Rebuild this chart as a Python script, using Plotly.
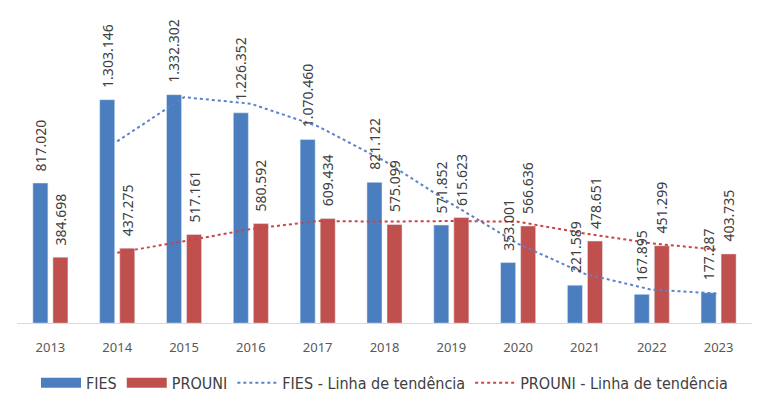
import plotly.graph_objects as go

years = ["2013", "2014", "2015", "2016", "2017", "2018", "2019", "2020", "2021", "2022", "2023"]
fies = [817020, 1303146, 1332302, 1226352, 1070460, 821122, 571852, 353001, 221589, 167895, 177287]
prouni = [384698, 437275, 517161, 580592, 609434, 575099, 615623, 566636, 478651, 451299, 403735]
# Excel moving-average (period 2) trend lines, starting in 2014
trend_years = years[1:]
fies_trend = [1060083, 1317724, 1279327, 1148406, 945791, 696487, 462426.5, 287295, 194742, 172591]
prouni_trend = [410986.5, 477218, 548876.5, 595013, 592266.5, 595361, 591129.5, 522643.5, 464975, 427517]

BLUE = "#4a7ebf"
RED = "#c0504d"
BLUE_T = "#5b82c8"
RED_T = "#c8454a"
TXT = "#404040"


def fmt(v):
    return f"{v:,}".replace(",", ".")


fig = go.Figure()
fig.add_trace(go.Bar(x=years, y=fies, name="FIES", marker_color=BLUE, showlegend=False))
fig.add_trace(go.Bar(x=years, y=prouni, name="PROUNI", marker_color=RED, showlegend=False))
# legend entries (wide swatches)
fig.add_trace(go.Scatter(x=[years[0]], y=[None], mode="lines", name="FIES",
                         line=dict(color=BLUE, width=10)))
fig.add_trace(go.Scatter(x=[years[0]], y=[None], mode="lines", name="PROUNI",
                         line=dict(color=RED, width=10)))
fig.add_trace(go.Scatter(x=trend_years, y=fies_trend, mode="lines", name="FIES - Linha de tendência",
                         line=dict(color=BLUE_T, width=2, dash="dot")))
fig.add_trace(go.Scatter(x=trend_years, y=prouni_trend, mode="lines", name="PROUNI - Linha de tendência",
                         line=dict(color=RED_T, width=2, dash="dot")))

ann = []
for i, v in enumerate(fies):
    ann.append(dict(x=i, y=v, xref="x", yref="y", text=fmt(v), textangle=-90, showarrow=False,
                    xanchor="center", yanchor="bottom", xshift=-10, yshift=10,
                    font=dict(family="Noto Sans", size=14, color=TXT)))
for i, v in enumerate(prouni):
    ann.append(dict(x=i, y=v, xref="x", yref="y", text=fmt(v), textangle=-90, showarrow=False,
                    xanchor="center", yanchor="bottom", xshift=10, yshift=10,
                    font=dict(family="Noto Sans", size=14, color=TXT)))

fig.update_layout(
    width=769, height=405,
    margin=dict(l=17, r=17, t=10, b=77),
    paper_bgcolor="white", plot_bgcolor="white",
    barmode="group", bargap=0.40, bargroupgap=0.25,
    annotations=ann,
    legend=dict(orientation="h", x=0.5, xanchor="center", yref="container", y=0.055, yanchor="middle",
                font=dict(family="Liberation Sans Narrow, DejaVu Sans Condensed, sans-serif", size=16, color=TXT),
                itemwidth=40, traceorder="normal"),
    xaxis=dict(type="category", categoryorder="array", categoryarray=years,
               range=[-0.5, len(years) - 0.5],
               showline=True, linecolor="#d9d9d9", linewidth=1, ticks="", showgrid=False,
               ticklabelstandoff=12,
               tickfont=dict(family="Noto Sans", size=13, color="#595959")),
    yaxis=dict(range=[0, 1826000], visible=False, showgrid=False),
)

fig.write_html("out.html")
